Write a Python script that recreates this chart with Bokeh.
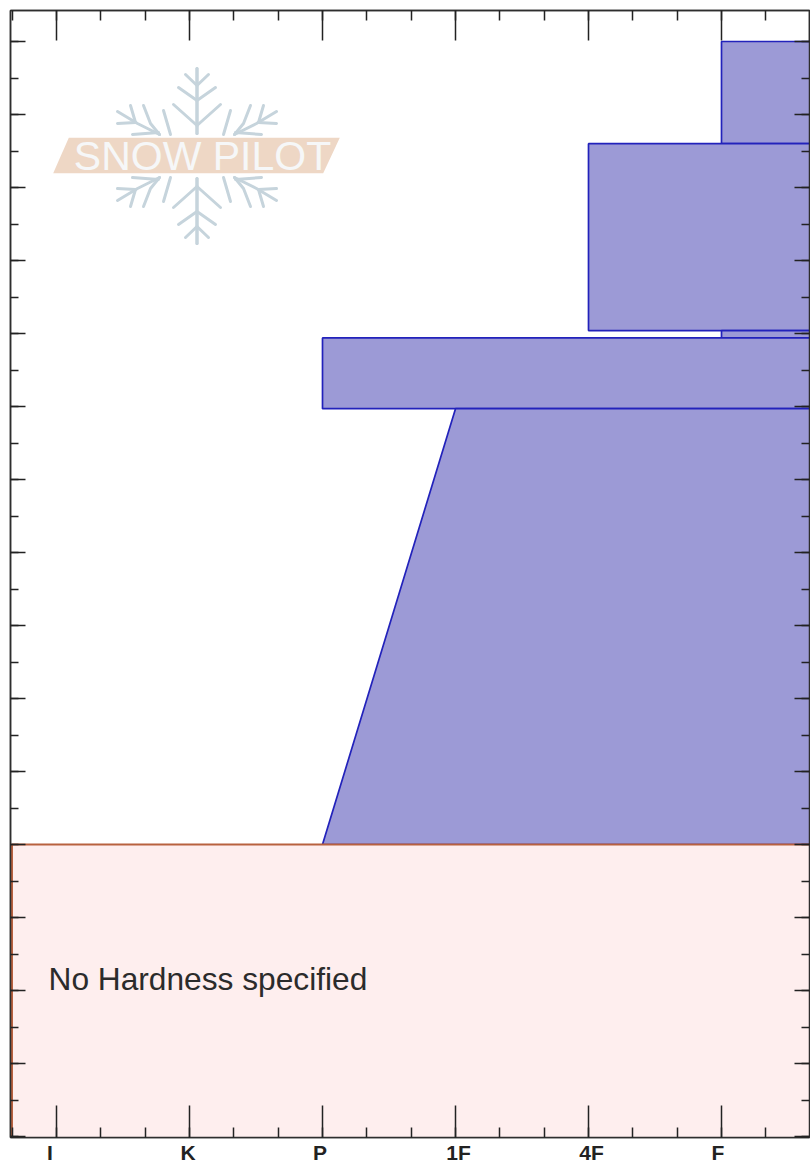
from bokeh.plotting import figure
from bokeh.embed import file_html
from bokeh.resources import INLINE
from bokeh.models import FixedTicker, LinearAxis, Range1d, CustomJSTickFormatter
from bokeh.core.properties import value
import numpy as np

# ---- data ----
hardness_labels = ["I", "K", "P", "1F", "4F", "F"]
hardness_pos = [0, 1, 2, 3, 4, 5]
label_shift_px = [-6.5, -1.5, -2.5, 3, 3, -3.5]
layer_top = [110.0, 96.0, 70.4, 69.4, 59.7]
layer_bottom = [96.0, 70.4, 69.4, 59.7, 0.0]
layer_hard_top = [5, 4, 5, 2, 3]
layer_hard_bottom = [5, 4, 5, 2, 2]
no_hardness_text = "No Hardness specified"
logo_text = "SNOW PILOT"

# ---- layout ----
FIG_W, FIG_H = 810, 1166
PAD_L, PAD_R, PAD_T, PAD_B = 10, 1, 10, 29
PER_X, PER_Y = 133.0, 7.3
X_ZERO_PX, Y_ZERO_PX = 56.0, 844.0
FRAME_W = FIG_W - PAD_L - PAD_R
FRAME_H = FIG_H - PAD_T - PAD_B


def xd(px):
    return (np.asarray(px, dtype=float) - X_ZERO_PX) / PER_X


def yd(py):
    return (Y_ZERO_PX - np.asarray(py, dtype=float)) / PER_Y


x_min, x_max = float(xd(PAD_L)), float(xd(PAD_L + FRAME_W))
y_max, y_min = float(yd(PAD_T)), float(yd(PAD_T + FRAME_H))

p = figure(width=FIG_W, height=FIG_H, output_backend="svg", toolbar_location=None,
           x_range=Range1d(x_min, x_max), y_range=Range1d(y_min, y_max),
           min_border_left=PAD_L, min_border_right=PAD_R, min_border_top=PAD_T,
           min_border_bottom=PAD_B, x_axis_location=None, y_axis_location=None,
           background_fill_color="white", border_fill_color="white",
           outline_line_color="#2e2e2e", outline_line_width=1.5)
p.grid.visible = False

# ---- layers ----
xs, ys = [], []
for t, b, ht, hb in zip(layer_top, layer_bottom, layer_hard_top, layer_hard_bottom):
    xs.append([ht, x_max + 1, x_max + 1, hb])
    ys.append([t, t, b, b])
p.patches(xs, ys, fill_color="#9c9ad6", line_color="#2222bb", line_width=1.7)

# ---- no-hardness band ----
p.quad(left=[float(xd(11.5))], right=[x_max + 1], top=[0], bottom=[y_min - 5],
       fill_color="#feeeee", line_color="#b8613f", line_width=2.0)

# ---- logo ----
cx, cy = 196.5, 155.5
arm = [[(196.5, 68), (196.5, 133)], [(196.5, 125), (173, 104)], [(196.5, 100), (178, 87)],
       [(196.5, 85), (185, 74)]]
cluster = [[(130, 105), (135, 122)], [(143, 105), (150, 123), (159, 134)],
           [(117, 111), (137, 123), (159, 134)], [(117, 123), (135, 122)],
           [(132, 134), (158, 132)], [(163, 110), (170, 134)]]
lx, ly = [], []
for seg in arm + cluster:
    sx = [a for a, _ in seg]
    sy = [b for _, b in seg]
    for fx in (1, -1):
        for fy in (1, -1):
            lx.append(xd([cx + fx * (a - cx) for a in sx]))
            ly.append(yd([cy + fy * (b - cy) for b in sy]))
p.multi_line(lx, ly, line_color="#c6d4dc", line_width=3.0, line_cap="round")
p.patch(xd([68.3, 339.3, 322.7, 52.7]), yd([137.3, 137.3, 172.7, 172.7]),
        fill_color="#eed7c5", line_color=None)
p.text(x=[xd(202)], y=[yd(155.5)], text=[logo_text], text_align="center", text_baseline="middle",
       text_font=value("Liberation Sans"), text_font_size="41px", text_color="#f6f7f8")

# ---- band text ----
p.text(x=[xd(48)], y=[yd(978)], text=[no_hardness_text], text_align="left", text_baseline="middle",
       text_font=value("Liberation Sans"), text_font_size="31.7px", text_color="#2b2b2b")

# ---- axes: inward ticks on all four sides ----
x_ticker = FixedTicker(ticks=hardness_pos,
                       minor_ticks=[float(v) for v in np.arange(-1, 7, 1 / 3)])
y_ticker = FixedTicker(ticks=[float(v) for v in np.arange(-40, 120, 10)],
                       minor_ticks=[float(v) for v in np.arange(-40, 120, 5)])
blank = CustomJSTickFormatter(code="return ''")

for side, ticker, maj, mnr in [("below", x_ticker, 32, 10), ("above", x_ticker, 30, 10),
                               ("left", y_ticker, 15, 8), ("right", y_ticker, 15, 8)]:
    ax = LinearAxis(ticker=ticker, formatter=blank)
    ax.major_tick_in = maj
    ax.major_tick_out = 0
    ax.minor_tick_in = mnr
    ax.minor_tick_out = 0
    ax.major_label_standoff = 0
    ax.axis_line_color = "#2e2e2e"
    ax.axis_line_width = 1.5
    ax.major_tick_line_color = "#222222"
    ax.minor_tick_line_color = "#222222"
    ax.major_tick_line_width = 1.5
    ax.minor_tick_line_width = 1.5
    p.add_layout(ax, side)

# ---- label-only axis: the reference's labels sit a little off their ticks ----
label_x = [pos + s / PER_X for pos, s in zip(hardness_pos, label_shift_px)]
lab_ax = LinearAxis(ticker=FixedTicker(ticks=label_x))
lab_ax.major_label_overrides = dict(zip(label_x, hardness_labels))
lab_ax.axis_line_color = None
lab_ax.major_tick_line_color = None
lab_ax.minor_tick_line_color = None
lab_ax.major_tick_in = 0
lab_ax.major_tick_out = 0
lab_ax.minor_tick_in = 0
lab_ax.minor_tick_out = 0
lab_ax.major_label_standoff = 3
lab_ax.major_label_text_font = "Liberation Sans"
lab_ax.major_label_text_font_style = "bold"
lab_ax.major_label_text_font_size = "21px"
lab_ax.major_label_text_color = "#222222"
p.add_layout(lab_ax, "below")

open("out.html", "w").write(file_html(p, INLINE))
